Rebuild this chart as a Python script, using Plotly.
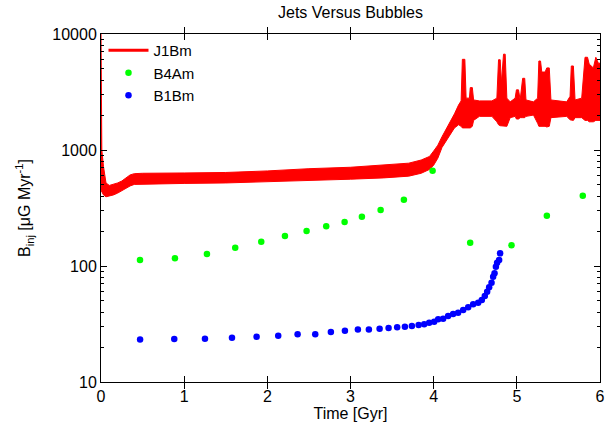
import plotly.graph_objects as go

# ---------------- data ----------------
# J1Bm: upper / lower envelope of the rapidly oscillating red curve
j1_time = [0.000, 0.010, 0.030, 0.060, 0.100, 0.150, 0.200, 0.250, 0.300, 0.350,
           0.400, 0.500, 1.000, 1.500, 2.000, 2.500, 3.000, 3.400, 3.700, 3.850,
           3.950, 4.000, 4.050, 4.100, 4.150, 4.200, 4.250, 4.300, 4.330, 4.345,
           4.375, 4.390, 4.430, 4.440, 4.465, 4.480, 4.550, 4.700, 4.760, 4.780,
           4.800, 4.815, 4.840, 4.860, 4.880, 4.920, 4.980, 4.995, 5.020, 5.040,
           5.070, 5.095, 5.110, 5.200, 5.250, 5.265, 5.285, 5.300, 5.340, 5.360,
           5.390, 5.410, 5.600, 5.640, 5.655, 5.680, 5.700, 5.780, 5.820, 5.850,
           5.870, 5.920, 5.950, 5.980, 6.000]
j1_high = [10500, 1000, 720, 520, 495, 505, 520, 540, 570, 610,
           625, 630, 634, 640, 660, 690, 710, 740, 770, 820,
           880, 980, 1100, 1300, 1500, 1750, 2050, 2450, 2650, 6050,
           6050, 2800, 2800, 3450, 3450, 2700, 2650, 2650, 2800, 6000,
           6000, 3800, 6700, 6700, 2800, 2600, 2800, 3300, 3300, 2700,
           4150, 4150, 2700, 2600, 2800, 5850, 5850, 4700, 4700, 5100,
           5100, 2700, 2600, 2900, 5300, 5300, 2700, 2800, 6300, 6300,
           5500, 5100, 6300, 5600, 5600]
j1_low = [450, 430, 410, 395, 400, 410, 425, 445, 465, 490,
          505, 510, 515, 520, 530, 545, 560, 575, 595, 630,
          680, 740, 850, 1050, 1180, 1350, 1550, 1650, 1600, 1550,
          1550, 1550, 1550, 1550, 1600, 1800, 1950, 1950, 1750, 1650,
          1620, 1620, 1600, 1600, 1600, 1900, 1950, 1850, 1850, 1900,
          1900, 1900, 1950, 2000, 1700, 1600, 1600, 1600, 1600, 1580,
          1600, 1900, 1950, 1820, 1800, 1800, 1900, 1900, 1800, 1800,
          1750, 1750, 1800, 1800, 1800]

# B4Am (green points)
b4_time = [0.469, 0.889, 1.274, 1.614, 1.927, 2.212, 2.472, 2.708, 2.929,
           3.137, 3.362, 3.642, 3.987, 4.439, 4.936, 5.361, 5.793]
b4_val = [112.7, 116.5, 126.9, 143.8, 162, 181.4, 200, 219.8, 239.4,
          266, 304, 373, 663, 159, 150.8, 271.5, 403]

# B1Bm (blue points)
b1_time = [0.470, 0.881, 1.250, 1.575, 1.871, 2.131, 2.364, 2.576, 2.764, 2.933,
           3.089, 3.221, 3.350, 3.458, 3.561, 3.654, 3.738, 3.819, 3.886, 3.946,
           4.006, 4.054, 4.114, 4.174, 4.234, 4.294, 4.355, 4.415, 4.475, 4.535,
           4.579, 4.615, 4.643, 4.667, 4.696, 4.715, 4.732, 4.748, 4.763, 4.787,
           4.799]
b1_val = [23.2, 23.5, 23.6, 24.1, 24.6, 25.1, 25.8, 25.8, 27.0, 27.7,
          28.4, 28.4, 28.8, 29.2, 29.6, 30.0, 30.4, 31.0, 31.4, 32.4,
          33.1, 34.7, 35.1, 37.1, 38.6, 39.6, 41.8, 44.1, 46.7, 48.3,
          50.9, 55.1, 60.0, 65.5, 71.8, 80.9, 86.5, 98.6, 106.7, 112.7,
          128.5]

x_tickvals = [0, 1, 2, 3, 4, 5, 6]
y_tickvals = [10, 100, 1000, 10000]
y_ticktext = ["10", "100", "1000", "10000"]
y_minor = [m * 10 ** k for k in range(1, 4) for m in range(2, 10)]

FONT = "Liberation Sans, Arial, Helvetica, sans-serif"
FS = 16
RED = "#ff0000"
GREEN = "#00ff00"
BLUE = "#0000ff"

W, H = 608, 437

fig = go.Figure()

# red band: polygon built from the envelopes
fig.add_trace(go.Scatter(
    x=j1_time + j1_time[::-1],
    y=j1_high + j1_low[::-1],
    mode="lines", fill="toself", fillcolor=RED,
    line=dict(color=RED, width=1),
    showlegend=False, hoverinfo="skip"))
# legend entry for J1Bm
fig.add_trace(go.Scatter(x=[None], y=[None], mode="lines", name="J1Bm",
                         line=dict(color=RED, width=3)))
fig.add_trace(go.Scatter(x=b4_time, y=b4_val, mode="markers", name="B4Am",
                         marker=dict(color=GREEN, size=6.5, line=dict(width=0))))
fig.add_trace(go.Scatter(x=b1_time, y=b1_val, mode="markers", name="B1Bm",
                         marker=dict(color=BLUE, size=6.5, line=dict(width=0))))
# empty trace so the minor-tick overlay axis is instantiated
fig.add_trace(go.Scatter(x=[None], y=[None], yaxis="y2", showlegend=False,
                         hoverinfo="skip"))

axis_common = dict(showline=True, linecolor="black", linewidth=1, mirror="allticks",
                   ticks="inside", ticklen=6, tickcolor="black", tickwidth=1,
                   showgrid=False, zeroline=False, automargin=False,
                   tickfont=dict(family=FONT, size=FS, color="black"))

fig.update_xaxes(range=[0, 6], tickvals=x_tickvals,
                 title=dict(text="Time [Gyr]", font=dict(family=FONT, size=FS, color="black"),
                            standoff=1),
                 **axis_common)
fig.update_yaxes(type="log", range=[1, 4], tickvals=y_tickvals, ticktext=y_ticktext,
                 title=dict(text="B<sub>inj</sub> [μG Myr<sup>-1</sup>]",
                            font=dict(family=FONT, size=FS, color="black"), standoff=17),
                 selector=dict(anchor="x"), **axis_common)

fig.update_layout(
    width=W, height=H,
    margin=dict(l=101, r=8, t=34, b=55, autoexpand=False),
    paper_bgcolor="white", plot_bgcolor="white",
    yaxis=dict(type="log", range=[1, 4], tickvals=y_tickvals, ticktext=y_ticktext,
               title=dict(text="B<sub>inj</sub> [μG Myr<sup>-1</sup>]",
                          font=dict(family=FONT, size=FS, color="black"), standoff=17),
               **axis_common),
    # overlay axis carrying only the minor log ticks (no labels)
    yaxis2=dict(overlaying="y", side="left", type="log", range=[1, 4],
                tickmode="array", tickvals=y_minor,
                ticks="inside", ticklen=3, tickcolor="black", tickwidth=1,
                mirror="allticks", showline=False, showgrid=False, zeroline=False,
                automargin=False, showticklabels=False),
    title=dict(text="Jets Versus Bubbles", x=0.5, xref="paper", xanchor="center",
               y=1 - 12 / H, yref="container", yanchor="middle",
               font=dict(family=FONT, size=FS, color="black")),
    legend=dict(x=0.005, y=1.0, xanchor="left", yanchor="top",
                bgcolor="rgba(0,0,0,0)", font=dict(family=FONT, size=15, color="black"),
                itemwidth=40, tracegroupgap=0),
    showlegend=True,
)

# remove the default 8px page margin so the figure fills the window
fig.write_html("out.html", config={"displayModeBar": False},
               post_script="document.body.style.margin='0';document.body.style.overflow='hidden';")
